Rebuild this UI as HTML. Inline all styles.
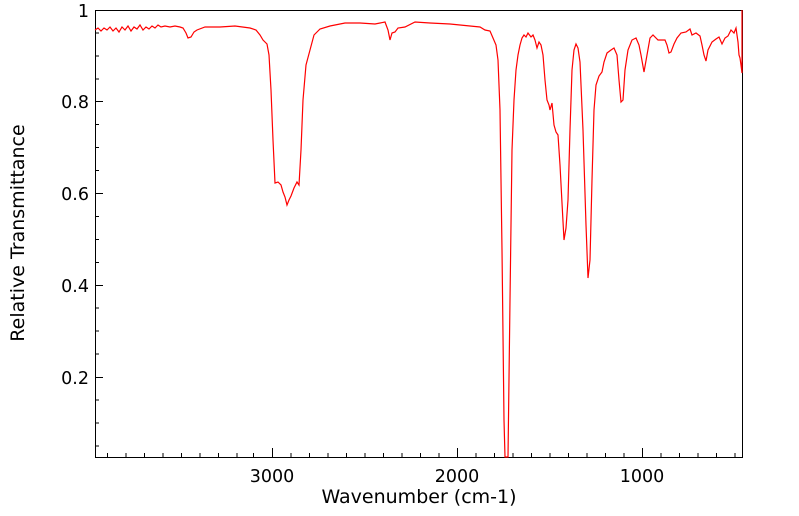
<!DOCTYPE html>
<html><head><meta charset="utf-8"><style>body{margin:0;background:#fff}svg{display:block}text{font-family:"DejaVu Sans","Liberation Sans",sans-serif;font-size:17.5px;fill:#000}</style></head><body>
<svg width="799" height="516" xmlns="http://www.w3.org/2000/svg">
<rect x="95.5" y="10.5" width="647" height="447" fill="none" stroke="#000" stroke-width="1"/>
<g stroke="#000" stroke-width="1">
<path d="M272.5 457v-9M457.5 457v-9M642.5 457v-9"/>
<path d="M107.5 457v-4M126 457v-4M144.5 457v-4M163 457v-4M181.5 457v-4M200 457v-4M218.5 457v-4M237 457v-4M253.5 457v-4M291 457v-4M309.5 457v-4M328 457v-4M346.5 457v-4M365 457v-4M383.5 457v-4M402 457v-4M420.5 457v-4M439 457v-4M476 457v-4M494.5 457v-4M513 457v-4M531.5 457v-4M550 457v-4M568.5 457v-4M587 457v-4M605.5 457v-4M624 457v-4M661 457v-4M679.5 457v-4M698 457v-4M716.5 457v-4M735 457v-4"/>
<path d="M95 101.5h8M95 193.5h8M95 285.5h8M95 377.5h8"/>
<path d="M95 33h4M95 56h4M95 79h4M95 124.5h4M95 147.5h4M95 170.5h4M95 216.5h4M95 239.5h4M95 262.5h4M95 308h4M95 331h4M95 354h4M95 400h4M95 423h4M95 446h4"/>
</g>
<polyline fill="none" stroke="#f00" stroke-width="1.2" points="95,30 98,28 101,31 104,28 107,30 110,27 113,31 116,28 119,32 122,27 125,30 128,26 131,31 134,27 137,29 140,25 143,30 146,27 149,29 152,26 155,28 158,25 161,27 165,26 170,27 175,26 180,27 183,28 186,33 188,38 191,37 194,32 197,30 205,27 220,27 235,26 250,28 256,30 260,35 263,40 267,44 269,55 271,90 273,140 275,183 278,182 281,185 283,192 285,197 287,205 289,200 291,196 294,188 297,182 299,185 301,150 303,100 306,65 310,50 314,35 320,29 330,26 345,23 360,23 375,24 385,22 388,30 390,40 392,33 395,32 398,28 405,27 415,22 430,23 450,24 470,26 480,27 485,30 490,31 493,38 496,45 498,60 500,110 502,250 504,420 505,457 508,457 510,300 512,150 514,100 516,70 518,55 520,45 522,38 524,35 526,37 528,33 531,37 533,35 535,40 537,48 539,42 541,45 543,55 545,80 547,100 549,105 550,110 552,103 554,125 556,132 558,135 560,165 562,203 564,240 566,228 568,200 570,130 572,70 574,50 576,44 578,48 580,62 583,130 586,225 588,278 590,260 592,180 594,110 596,85 599,76 602,72 604,62 607,53 611,50 614,48 617,55 619,80 621,102 623,100 625,70 628,50 632,40 636,38 639,45 641,55 644,72 647,55 650,38 653,35 658,40 662,40 665,40 667,45 669,53 671,52 674,44 677,38 681,33 686,32 690,29 692,35 696,33 700,36 702,45 704,55 706,61 708,50 712,42 716,39 719,37 722,44 725,38 728,36 731,30 734,33 736,28 738,42 739,55 740,58 741,65 742,73 742,10"/>
<text x="272" y="482" text-anchor="middle">3000</text>
<text x="457" y="482" text-anchor="middle">2000</text>
<text x="642" y="482" text-anchor="middle">1000</text>
<text x="419" y="503" text-anchor="middle" style="font-size:19px">Wavenumber (cm-1)</text>
<text x="89" y="17" text-anchor="end">1</text>
<text x="89" y="108" text-anchor="end">0.8</text>
<text x="89" y="200" text-anchor="end">0.6</text>
<text x="89" y="292" text-anchor="end">0.4</text>
<text x="89" y="384" text-anchor="end">0.2</text>
<text transform="translate(24,233) rotate(-90)" text-anchor="middle" style="font-size:19px">Relative Transmittance</text>
</svg>
</body></html>
